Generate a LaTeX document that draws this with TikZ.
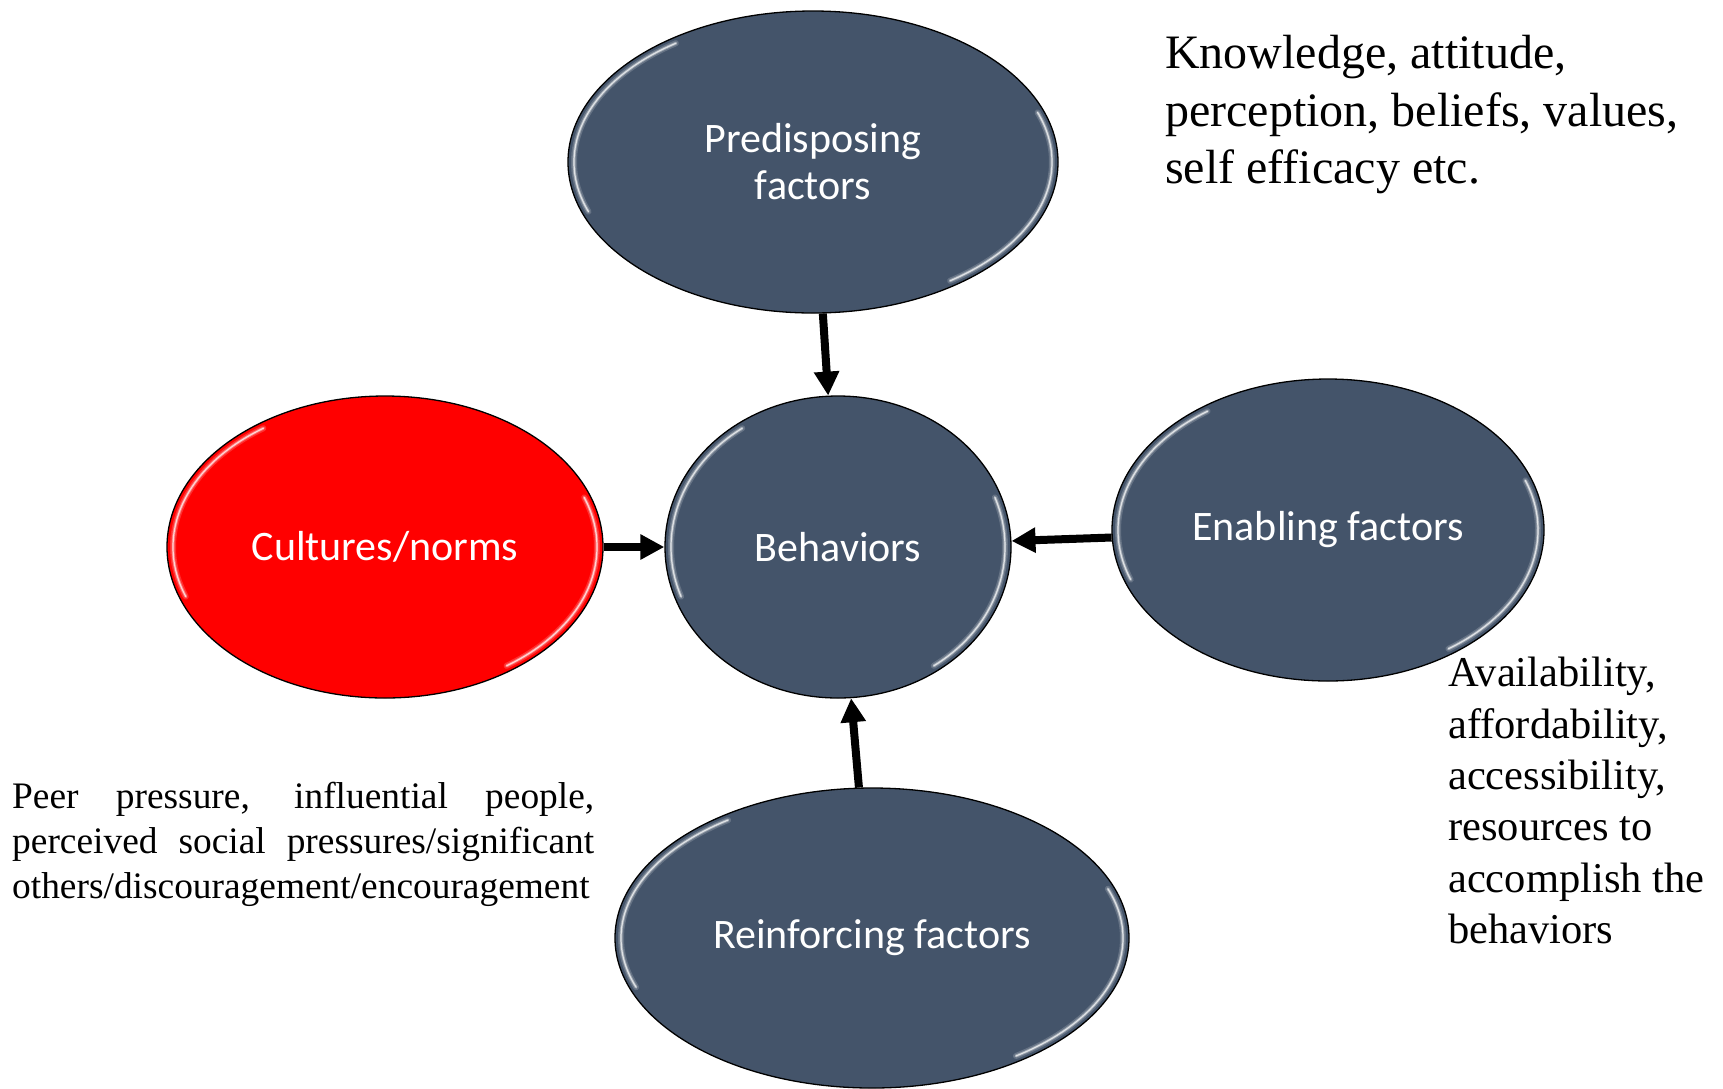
\documentclass[tikz,border=0pt]{standalone}
\usepackage{fontspec}
\setmainfont{Liberation Serif}
\newfontfamily\ovalfont{Carlito}
\usetikzlibrary{shapes.geometric,arrows.meta,calc,positioning}
\definecolor{slate}{RGB}{68,84,106}
\definecolor{culred}{RGB}{255,0,0}

\begin{document}
\begin{tikzpicture}[->,>={Triangle[length=24pt,width=24pt]},x=1pt,y=1pt]

\tikzstyle{glint}=[-,white,line cap=round]
\tikzstyle{oval}=[ellipse,draw=black,line width=1.3pt,fill=slate,text=white,inner sep=0pt,
    minimum height=302pt,align=center,font=\ovalfont\fontsize{42}{47}\selectfont,
    path picture={
      \foreach \w/\o in {6pt/0.18,3pt/0.35,1.2pt/0.7}{
      \draw[glint,line width=\w,opacity=\o] let \p1=(path picture bounding box.south west), \p2=(path picture bounding box.north east),
        \n1={(\x2-\x1)/2-6pt}, \n2={(\y2-\y1)/2-6pt}, \p3=($(\p1)!0.5!(\p2)$) in
        ($(\p3)+(125:\n1 and \n2)$) arc[start angle=125,end angle=200,x radius=\n1,y radius=\n2]
        ($(\p3)+(-55:\n1 and \n2)$) arc[start angle=-55,end angle=20,x radius=\n1,y radius=\n2];
      }
    }]
\tikzstyle{note}=[anchor=north west,inner sep=0pt,align=left,text=black]
\tikzstyle{link}=[line width=8pt,black]

    \useasboundingbox (0,0) rectangle (1723,-1088);

    \node[oval,minimum width=346pt] at (838,-547)                          (beh) {Behaviors};
    \node[oval,minimum width=490pt,above of=beh,node distance=385pt,xshift=-25pt] (pre) {Predisposing\\factors};
    \node[oval,minimum width=436pt,fill=culred,left of=beh,node distance=453pt]   (cul) {Cultures/norms};
    \node[oval,minimum width=432pt,right of=beh,node distance=490pt,yshift=17pt]  (ena) {Enabling factors};
    \node[oval,minimum width=514pt,minimum height=300pt,below of=beh,node distance=391pt,xshift=34pt] (rei) {Reinforcing factors};

    % side notes
    \node[note,font=\fontsize{48}{57.6}\selectfont] at (1165,-35) (knw)
        {Knowledge, attitude,\\perception, beliefs, values,\\self efficacy etc.};
    \node[note,font=\fontsize{42.5}{51.4}\selectfont] at (1448,-657) (avl)
        {Availability,\\affordability,\\accessibility,\\resources to\\accomplish the\\behaviors};
    \node[note,font=\fontsize{37.4}{45}\selectfont] at (12,-782) (peer)
        {\makebox[582pt][s]{Peer pressure, influential people,}\\
         \makebox[582pt][s]{perceived social pressures/significant}\\
         others/discouragement/encouragement};

	\path[link]
	(pre) edge (beh)
	(cul) edge (beh)
	(ena) edge (beh)
	(rei) edge (beh);

\end{tikzpicture}
\end{document}
